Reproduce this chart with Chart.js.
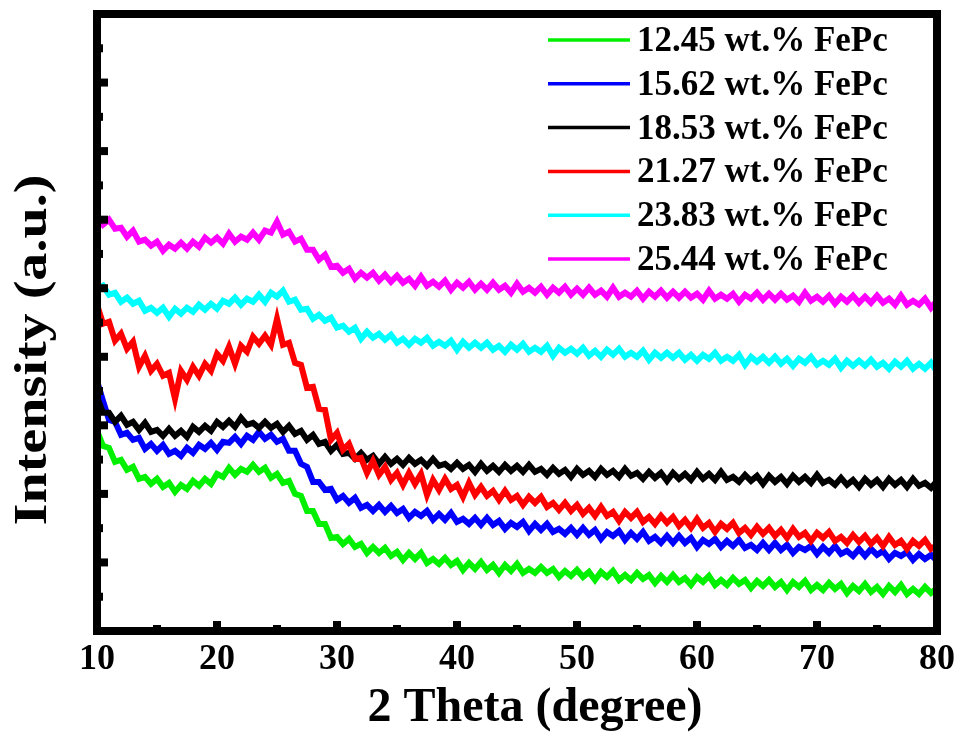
<!DOCTYPE html>
<html>
<head>
<meta charset="utf-8">
<script src="https://cdn.jsdelivr.net/npm/chart.js@4.4.1/dist/chart.umd.min.js"></script>
<style>
  html, body { margin: 0; padding: 0; background: #ffffff; }
  #wrap { width: 962px; height: 744px; position: relative; }
</style>
</head>
<body>
<div id="wrap"><canvas id="c"></canvas></div>
<script>
// 2 Theta sampling (degree)
const twoTheta = [10,10.5,11,11.5,12,12.5,13,13.5,14,14.5,15,15.5,16,16.5,17,17.5,18,18.5,19,19.5,
20,20.5,21,21.5,22,22.5,23,23.5,24,24.5,25,25.5,26,26.5,27,27.5,28,28.5,29,29.5,
30,30.5,31,31.5,32,32.5,33,33.5,34,34.5,35,35.5,36,36.5,37,37.5,38,38.5,39,39.5,
40,40.5,41,41.5,42,42.5,43,43.5,44,44.5,45,45.5,46,46.5,47,47.5,48,48.5,49,49.5,
50,50.5,51,51.5,52,52.5,53,53.5,54,54.5,55,55.5,56,56.5,57,57.5,58,58.5,59,59.5,
60,60.5,61,61.5,62,62.5,63,63.5,64,64.5,65,65.5,66,66.5,67,67.5,68,68.5,69,69.5,
70,70.5,71,71.5,72,72.5,73,73.5,74,74.5,75,75.5,76,76.5,77,77.5,78,78.5,79,79.5,80];

const seriesLabels = ['12.45 wt.% FePc','15.62 wt.% FePc','18.53 wt.% FePc','21.27 wt.% FePc','23.83 wt.% FePc','25.44 wt.% FePc'];
const seriesColors = ['#00F000','#0000FF','#000000','#FF0000','#00FFFF','#FF00FF'];

const fepc1245 = [200,185,183,169,171,161,164,152,154,147,
152,144,148,139,146,142,150,145,152,147,
157,154,163,156,162,159,166,159,163,153,
157,148,150,137,135,120,120,107,107,93,
94,87,92,84,87,78,84,78,83,75,
79,71,78,72,78,68,72,67,73,66,
70,61,68,62,69,61,66,58,66,60,
67,58,62,58,64,58,62,54,60,55,
61,54,59,51,59,54,60,51,56,51,
58,52,56,48,55,49,56,49,53,46,
54,49,55,46,51,46,53,47,51,43,
50,45,51,44,49,41,49,44,50,41,
46,41,48,42,47,38,45,40,47,39,
44,37,45,39,46,37,42,37,44,38,
43];

const fepc1562 = [250,230,211,209,196,198,191,193,182,187,
180,186,177,180,175,183,178,186,182,188,
181,189,188,194,187,195,191,199,192,196,
189,192,180,180,167,164,149,149,141,142,
131,135,128,133,123,126,120,126,119,125,
118,122,113,119,115,120,111,117,111,118,
109,112,107,113,106,113,106,110,102,108,
104,109,100,107,101,107,99,102,97,103,
96,103,96,101,92,99,95,100,91,98,
92,99,90,94,88,95,88,95,88,93,
84,91,87,92,84,90,85,91,83,86,
81,88,81,88,81,86,78,84,81,85,
77,84,78,85,77,80,75,82,75,82,
76,80,72,78,75,79,71,77,72,76,
70];

const fepc1853 = [234,218,218,209,215,206,209,201,208,199,
201,195,202,195,200,194,204,199,205,200,
209,204,210,204,213,206,208,203,209,203,
207,199,205,197,200,191,196,187,189,180,
186,177,178,172,178,171,175,167,174,167,
172,166,173,167,171,165,172,165,167,162,
168,162,166,159,167,160,165,159,166,160,
165,159,166,159,162,156,163,157,161,154,
162,156,160,154,162,156,160,154,162,155,
158,152,159,153,158,150,158,152,157,151,
159,152,157,151,159,151,154,149,156,150,
155,147,155,149,154,147,155,149,154,148,
156,148,151,146,153,146,151,144,152,146,
151,144,152,146,151,144,152,145,148,143,
150];

const fepc2127 = [326,307,309,290,297,282,289,264,275,260,
267,255,258,232,260,251,264,255,267,260,
277,270,284,267,285,279,294,287,295,286,
312,286,288,268,266,243,244,222,221,191,
198,181,187,172,173,158,170,156,164,151,
158,146,158,147,157,136,151,141,152,142,
146,134,148,136,144,135,140,131,140,131,
135,126,134,128,134,124,128,121,128,120,
126,117,123,115,124,115,119,110,119,113,
119,109,114,107,115,108,114,105,111,103,
112,103,108,99,107,102,108,98,103,96,
104,97,103,95,101,93,102,94,98,90,
98,93,99,90,94,88,96,89,95,87,
93,85,94,86,90,82,90,85,91,82,
86];

const fepc2383 = [342,345,336,338,329,333,327,330,320,323,
318,323,314,322,317,323,319,326,321,327,
322,330,327,333,326,332,329,336,329,338,
334,340,329,331,321,322,312,316,310,313,
303,305,299,303,292,299,293,297,291,296,
288,292,286,292,288,293,285,289,285,290,
281,289,283,288,283,288,281,285,279,286,
281,287,279,283,279,285,275,283,278,282,
277,283,275,280,274,281,276,282,274,278,
274,280,271,278,273,278,273,278,271,276,
270,276,272,278,270,274,270,276,266,274,
269,274,268,274,267,272,265,272,268,274,
266,270,266,272,263,270,265,270,265,271,
264,268,262,269,264,270,262,267,262,268,
259];

const fepc2544 = [414,406,411,402,403,394,400,389,391,385,
389,380,386,382,388,382,389,384,393,388,
393,387,397,389,394,391,398,391,400,398,
409,396,399,389,392,381,381,371,376,364,
365,358,362,352,358,353,358,350,356,349,
355,348,352,345,354,345,349,344,350,341,
348,343,349,341,347,341,348,341,345,338,
347,339,343,338,344,336,343,338,344,336,
342,336,343,336,340,334,343,334,338,334,
340,332,339,334,340,333,339,333,339,333,
337,331,340,332,336,332,337,329,336,332,
338,331,337,331,337,331,335,329,338,330,
334,329,335,327,334,329,335,328,334,328,
335,328,332,326,335,326,330,326,332,323,
330];

const allSeries = [fepc1245, fepc1562, fepc1853, fepc2127, fepc2383, fepc2544];

const xTitle = '2 Theta (degree)';
const yTitle = 'Intensity (a.u.)';
const SERIF = "'Liberation Serif', 'Times New Roman', serif";

const datasets = allSeries.map((vals, i) => ({
  label: seriesLabels[i],
  data: vals.map((v, k) => ({ x: twoTheta[k], y: v })),
  borderColor: seriesColors[i],
  backgroundColor: seriesColors[i],
  borderWidth: 6,
  borderJoinStyle: 'miter',
  pointRadius: 0,
  tension: 0,
  fill: false,
  order: allSeries.length - i
}));

const decorPlugin = {
  id: 'decor',
  afterDatasetsDraw(chart) {
    const { ctx, chartArea: a, scales } = chart;
    const xs = scales.x, ys = scales.y;
    ctx.save();
    // white margin outside the frame so lines never show beyond it
    ctx.strokeStyle = '#000';
    ctx.lineWidth = 8;
    ctx.strokeRect(a.left, a.top, a.right - a.left, a.bottom - a.top);
    ctx.fillStyle = '#000';
    const inL = a.left + 4, inB = a.bottom - 4;
    // y ticks (major + minor midpoints)
    const yt = ys.ticks.map(t => t.value);
    yt.forEach((v, k) => {
      const p = ys.getPixelForValue(v);
      if (p > a.top + 6 && p < a.bottom - 6) ctx.fillRect(inL, p - 4, 7, 8);
      if (k < yt.length - 1) {
        const pm = ys.getPixelForValue((v + yt[k + 1]) / 2);
        ctx.fillRect(inL, pm - 4, 2, 8);
      }
    });
    // x ticks
    const xt = xs.ticks.map(t => t.value);
    xt.forEach((v, k) => {
      const p = xs.getPixelForValue(v);
      if (p > a.left + 6 && p < a.right - 6) ctx.fillRect(p - 4, inB - 6, 8, 6);
      if (k < xt.length - 1) {
        const pm = xs.getPixelForValue((v + xt[k + 1]) / 2);
        ctx.fillRect(pm - 4, inB - 2, 8, 2);
      }
    });
    ctx.restore();
  },
  afterDraw(chart) {
    const { ctx } = chart;
    ctx.save();
    ctx.fillStyle = '#000';
    // x title
    ctx.font = 'bold 48px ' + SERIF;
    ctx.textAlign = 'center';
    ctx.textBaseline = 'alphabetic';
    ctx.fillText(xTitle, 535, 721);
    // y title
    ctx.save();
    ctx.translate(46, 350);
    ctx.rotate(-Math.PI / 2);
    ctx.scale(1.22, 1);
    ctx.font = 'bold 46px ' + SERIF;
    ctx.textAlign = 'center';
    ctx.fillText(yTitle, 0, 0);
    ctx.restore();
    // legend
    ctx.font = 'bold 35px ' + SERIF;
    ctx.textAlign = 'left';
    ctx.textBaseline = 'middle';
    chart.data.datasets.forEach((ds, i) => {
      const yy = 40 + i * 43.8;
      ctx.strokeStyle = ds.borderColor;
      ctx.lineWidth = 3.5;
      ctx.beginPath();
      ctx.moveTo(548, yy);
      ctx.lineTo(630, yy);
      ctx.stroke();
      ctx.fillStyle = '#000';
      ctx.fillText(ds.label, 637, yy + 2);
    });
    ctx.restore();
  }
};

new Chart(document.getElementById('c'), {
  type: 'line',
  data: { datasets },
  options: {
    responsive: true,
    maintainAspectRatio: false,
    animation: false,
    devicePixelRatio: 1,
    layout: { padding: { left: 97, right: 24.5, top: 14, bottom: 0 } },
    plugins: { legend: { display: false }, tooltip: { enabled: false }, title: { display: false } },
    scales: {
      x: {
        type: 'linear',
        min: 10, max: 80,
        grid: { display: false, drawTicks: false },
        border: { display: false },
        ticks: {
          stepSize: 10,
          color: '#000',
          padding: 7,
          maxRotation: 0,
          font: { family: SERIF, size: 36, weight: 'bold' }
        },
        afterFit(scale) { scale.height = 113; }
      },
      y: {
        type: 'linear',
        min: 0, max: 616.5,
        grid: { display: false, drawTicks: false },
        border: { display: false },
        ticks: { display: false, stepSize: 68.5 }
      }
    }
  },
  plugins: [decorPlugin]
});
</script>
</body>
</html>
